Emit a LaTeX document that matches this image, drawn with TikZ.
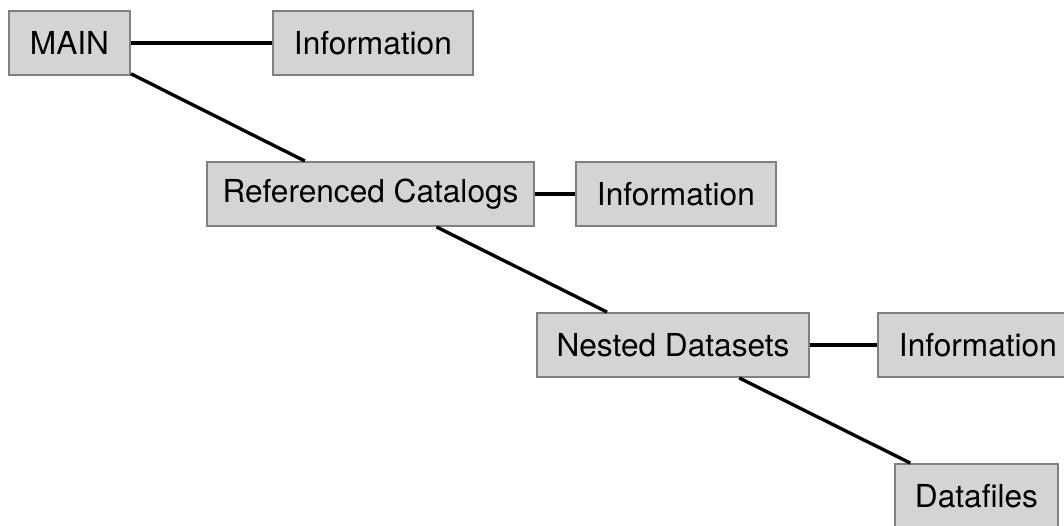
\documentclass[tikz,border=0pt]{standalone}
\usepackage{fontspec}
\setmainfont{TeX Gyre Heros}
\usetikzlibrary{positioning}
\tikzset{box/.style = {rectangle, draw=black!50, fill=black!17, line width=1.1pt,
    minimum height=1.28cm, inner sep=2pt, font=\fontsize{18}{21}\selectfont},
  link/.style = {draw=black, line width=1.9pt}}

\begin{document}
\begin{tikzpicture}
  \useasboundingbox (0,0) rectangle (21.28,-10.5);

  \node[box, minimum width=2.42cm] (main) at (1.39,-0.86) {MAIN};
  \node[box, minimum width=4cm] (info1) [right = 2.82cm of main] {Information};

  \node[box, minimum width=6.54cm] (refCat) at (7.41,-3.88) {Referenced Catalogs};
  \node[box, minimum width=4cm] (info2) [right = 0.8cm of refCat] {Information};

  \node[box, minimum width=5.44cm] (nested) at (13.46,-6.90) {Nested Datasets};
  \node[box, minimum width=4cm] (info3) [right = 1.34cm of nested] {Information};

  \node[box, minimum width=3.26cm] (datafiles) at (19.53,-9.92) {Datafiles};

  \draw[link] (main) -- (info1);
  \draw[link] (main) -- (refCat);
  \draw[link] (refCat) -- (info2);
  \draw[link] (refCat) -- (nested);
  \draw[link] (nested) -- (info3);
  \draw[link] (nested) -- (datafiles);

\end{tikzpicture}
\end{document}
